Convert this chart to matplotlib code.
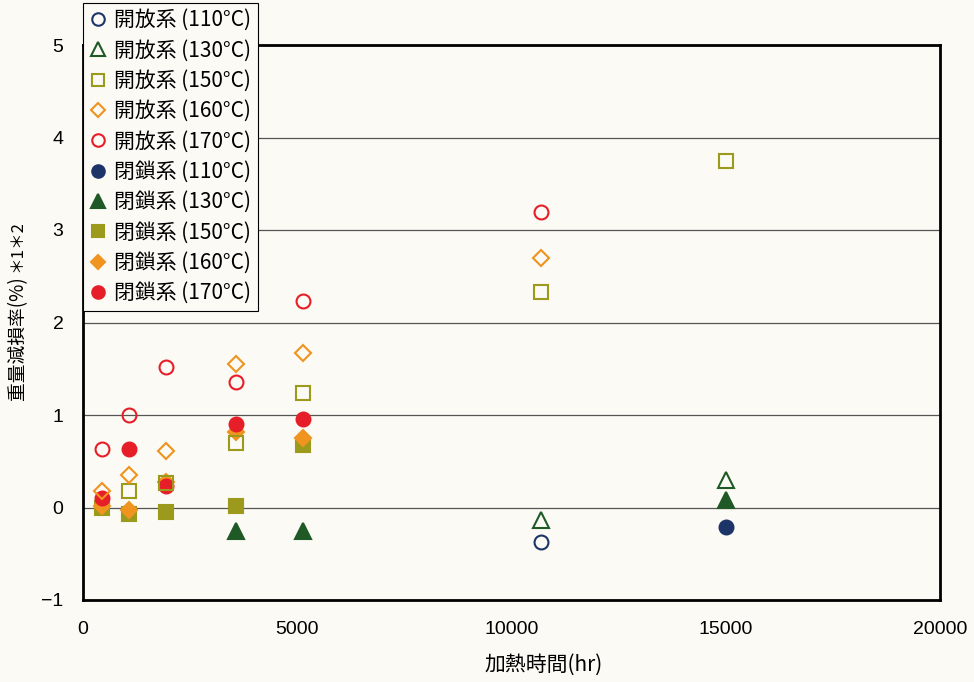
import matplotlib
matplotlib.use("Agg")
import matplotlib.pyplot as plt
from matplotlib.lines import Line2D

plt.rcParams['font.family'] = ['Noto Sans CJK JP', 'DejaVu Sans']

# hours for each column of points
t_open110 = [10700]
v_open110 = [-0.37]
t_open130 = [10700, 15000]
v_open130 = [-0.14, 0.30]
t_open150 = [1070, 1940, 3570, 5130, 10700, 15000]
v_open150 = [0.18, 0.27, 0.70, 1.24, 2.33, 3.75]
t_open160 = [440, 1070, 1940, 3570, 5130, 10700]
v_open160 = [0.18, 0.35, 0.61, 1.55, 1.67, 2.70]
t_open170 = [440, 1070, 1940, 3570, 5130, 10700]
v_open170 = [0.63, 1.00, 1.52, 1.36, 2.23, 3.19]
t_closed110 = [15000]
v_closed110 = [-0.21]
t_closed130 = [3570, 5130, 15000]
v_closed130 = [-0.25, -0.25, 0.08]
t_closed150 = [440, 1070, 1940, 3570, 5130]
v_closed150 = [0.0, -0.07, -0.05, 0.02, 0.68]
t_closed160 = [440, 1070, 1940, 3570, 5130]
v_closed160 = [0.02, -0.03, 0.28, 0.82, 0.75]
t_closed170 = [440, 1070, 1940, 3570, 5130]
v_closed170 = [0.10, 0.63, 0.23, 0.90, 0.96]

labels = ['開放系 (110°C)', '開放系 (130°C)', '開放系 (150°C)', '開放系 (160°C)', '開放系 (170°C)',
          '閉鎖系 (110°C)', '閉鎖系 (130°C)', '閉鎖系 (150°C)', '閉鎖系 (160°C)', '閉鎖系 (170°C)']
xticks = [0, 5000, 10000, 15000, 20000]
yticks = [-1, 0, 1, 2, 3, 4, 5]

c110 = '#1c3468'
c130 = '#1f5a26'
c150 = '#9c9a1c'
c160 = '#f09420'
c170 = '#e61e28'
bg = '#fbfaf4'

fig = plt.figure(figsize=(9.74, 6.82), dpi=100, facecolor=bg)
ax = fig.add_axes([83/974, 1-600/682, (940-83)/974, (600-45)/682])
ax.set_facecolor(bg)

series = [
    (t_closed150, v_closed150, 's', c150, True),
    (t_closed160, v_closed160, 'D', c160, True),
    (t_closed130, v_closed130, '^', c130, True),
    (t_closed110, v_closed110, 'o', c110, True),
    (t_closed170, v_closed170, 'o', c170, True),
    (t_open110, v_open110, 'o', c110, False),
    (t_open130, v_open130, '^', c130, False),
    (t_open150, v_open150, 's', c150, False),
    (t_open160, v_open160, 'D', c160, False),
    (t_open170, v_open170, 'o', c170, False),
]
sizes = {'o': 10, '^': 11, 's': 10, 'D': 8}
for t, v, m, c, filled in series:
    ax.plot(t, v, linestyle='none', marker=m, markersize=sizes[m],
            markerfacecolor=c if filled else 'none', markeredgecolor=c,
            markeredgewidth=1.5, zorder=3)

ax.set_xlim(0, 20000)
ax.set_ylim(-1, 5)
ax.set_xticks(xticks)
ax.set_yticks(yticks)
ax.tick_params(length=0, labelsize=14)
ax.tick_params(axis='x', pad=15)
ax.tick_params(axis='y', pad=14)
for lab in ax.get_xticklabels() + ax.get_yticklabels():
    lab.set_fontfamily('Liberation Sans')
ax.grid(axis='y', color='#555555', linewidth=0.9)
ax.set_axisbelow(True)
for s in ax.spines.values():
    s.set_linewidth(2)
    s.set_color('black')

fig.text(544/974, 1-665/682, '加熱時間(hr)', fontsize=15, ha='center', va='center')
fig.text(18/974, 1-338/682, '重量減損率(%)', rotation=90, fontsize=13.5, ha='center', va='center')
fig.text(17/974, 1-246/682, '＊1＊2', rotation=90, fontsize=12, ha='center', va='center')

handles = []
specs = [('o', c110, False), ('^', c130, False), ('s', c150, False), ('D', c160, False), ('o', c170, False),
         ('o', c110, True), ('^', c130, True), ('s', c150, True), ('D', c160, True), ('o', c170, True)]
for (m, c, f), lab in zip(specs, labels):
    handles.append(Line2D([], [], linestyle='none', marker=m, markersize=sizes[m]*0.9,
                          markerfacecolor=c if f else 'none', markeredgecolor=c,
                          markeredgewidth=1.5, label=lab))
leg = fig.legend(handles=handles, loc='upper left', bbox_to_anchor=(83/974, 1-3/682),
                 fontsize=15, frameon=True, fancybox=False, edgecolor='black',
                 facecolor=bg, framealpha=1, handlelength=0.8, handletextpad=0.4,
                 labelspacing=0.4, borderpad=0.3, borderaxespad=0)
leg.get_frame().set_linewidth(0.8)

fig.savefig('out.png', dpi=100, facecolor=bg)
